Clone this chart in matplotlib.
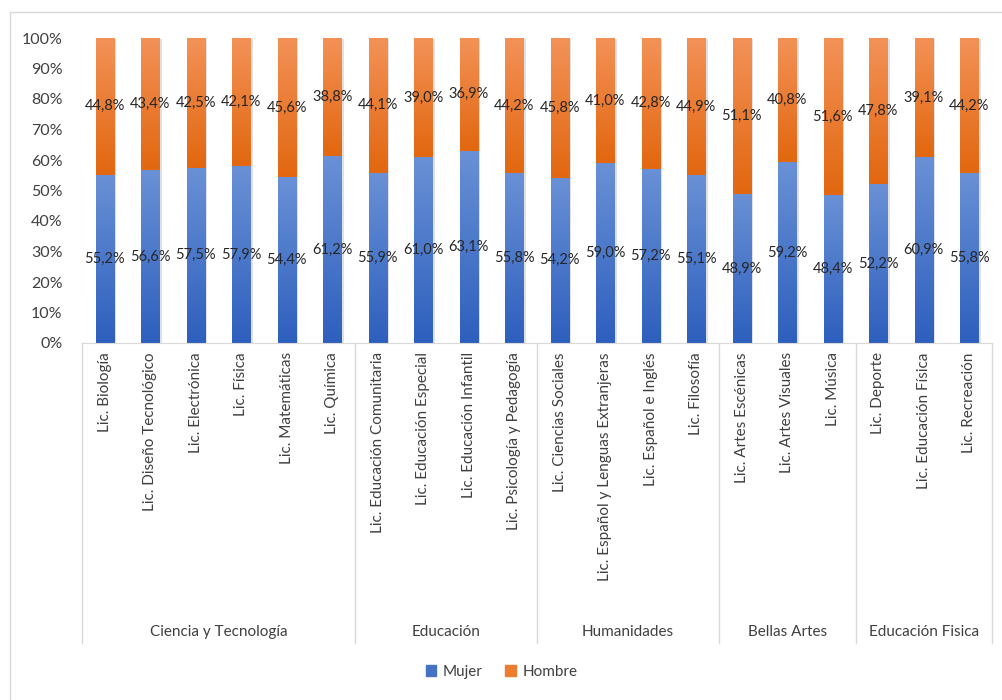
import numpy as np
import matplotlib
matplotlib.use("Agg")
import matplotlib.pyplot as plt
from matplotlib.colors import LinearSegmentedColormap
from matplotlib.patches import Patch, Rectangle

plt.rcParams['font.family'] = ['Lato', 'DejaVu Sans']

# Data
programas = ["Lic. Biología", "Lic. Diseño Tecnológico", "Lic. Electrónica", "Lic. Física",
             "Lic. Matemáticas", "Lic. Química",
             "Lic. Educación Comunitaria", "Lic. Educación Especial", "Lic. Educación Infantil",
             "Lic. Psicología y Pedagogía",
             "Lic. Ciencias Sociales", "Lic. Español y Lenguas Extranjeras", "Lic. Español e Inglés",
             "Lic. Filosofía",
             "Lic. Artes Escénicas", "Lic. Artes Visuales", "Lic. Música",
             "Lic. Deporte", "Lic. Educación Física", "Lic. Recreación"]
facultades = ["Ciencia y Tecnología", "Educación", "Humanidades", "Bellas Artes", "Educación Fisica"]
n_por_facultad = [6, 4, 4, 3, 3]
mujer = [55.2, 56.6, 57.5, 57.9, 54.4, 61.2, 55.9, 61.0, 63.1, 55.8,
         54.2, 59.0, 57.2, 55.1, 48.9, 59.2, 48.4, 52.2, 60.9, 55.8]
hombre = [44.8, 43.4, 42.5, 42.1, 45.6, 38.8, 44.1, 39.0, 36.9, 44.2,
          45.8, 41.0, 42.8, 44.9, 51.1, 40.8, 51.6, 47.8, 39.1, 44.2]

fig = plt.figure(figsize=(10.03, 7.0), dpi=100)
ax = fig.add_axes([82 / 1003, 1 - 343 / 700, 910 / 1003, 305 / 700])

blue_cmap = LinearSegmentedColormap.from_list("b", ["#2d5fbd", "#6a91d6"])
orange_cmap = LinearSegmentedColormap.from_list("o", ["#e2670f", "#f39258"])
grad = np.linspace(0, 1, 256).reshape(-1, 1)

x = np.arange(len(programas))
w = 0.4
txt_color = "#262626"
for i in x:
    m = mujer[i] / 100
    h = hombre[i] / 100
    # shadow
    ax.add_patch(Rectangle((i - w / 2 + 0.05, -0.004), w, m + h, color="#000000", alpha=0.12, lw=0, zorder=1))
    ax.imshow(grad, cmap=blue_cmap, origin="lower", aspect="auto",
              extent=[i - w / 2, i + w / 2, 0, m], zorder=2)
    ax.imshow(grad, cmap=orange_cmap, origin="lower", aspect="auto",
              extent=[i - w / 2, i + w / 2, m, m + h], zorder=2)
    ax.text(i, m / 2, f"{mujer[i]:.1f}%".replace(".", ","), ha="center", va="center",
            fontsize=10.5, color=txt_color, zorder=3)
    ax.text(i, m + h / 2, f"{hombre[i]:.1f}%".replace(".", ","), ha="center", va="center",
            fontsize=10.5, color=txt_color, zorder=3)

ax.set_xlim(-0.5, len(programas) - 0.5)
ax.set_ylim(0, 1)
ax.set_yticks(np.arange(0, 1.01, 0.1))
ax.set_yticklabels([f"{int(round(v * 100))}%" for v in np.arange(0, 1.01, 0.1)])
ax.tick_params(axis="y", length=0, labelsize=11.5, labelcolor="#404040", pad=14)
ax.set_xticks([])
for s in ["top", "right", "left"]:
    ax.spines[s].set_visible(False)
ax.spines["bottom"].set_color("#d9d9d9")

# multi-level category axis
trans = ax.get_xaxis_transform()
line_bot = -300 / 305
for i, p in enumerate(programas):
    ax.text(i, -0.03, p, rotation=90, ha="center", va="top", fontsize=11,
            color="#404040", transform=trans)
edges = np.concatenate([[0], np.cumsum(n_por_facultad)]) - 0.5
for e in edges:
    ax.plot([e, e], [0, line_bot], color="#d9d9d9", lw=1, transform=trans, clip_on=False)
for k, f in enumerate(facultades):
    ax.text((edges[k] + edges[k + 1]) / 2, -289 / 305, f, ha="center", va="center",
            fontsize=11, color="#404040", transform=trans)

handles = [Patch(color="#4472c4", label="Mujer"), Patch(color="#ed7d31", label="Hombre")]
fig.legend(handles=handles, loc="center", bbox_to_anchor=(0.5, 1 - 672 / 700), ncol=2,
           frameon=False, fontsize=11, handlelength=0.7, handleheight=0.7,
           columnspacing=1.5, handletextpad=0.4, labelcolor="#404040")

# chart border
fig.add_artist(plt.Line2D([10 / 1003, 10 / 1003], [0, 1 - 12 / 700], color="#d9d9d9", lw=1))
fig.add_artist(plt.Line2D([10 / 1003, 1], [1 - 12 / 700, 1 - 12 / 700], color="#d9d9d9", lw=1))

fig.savefig("out.png", dpi=100)
